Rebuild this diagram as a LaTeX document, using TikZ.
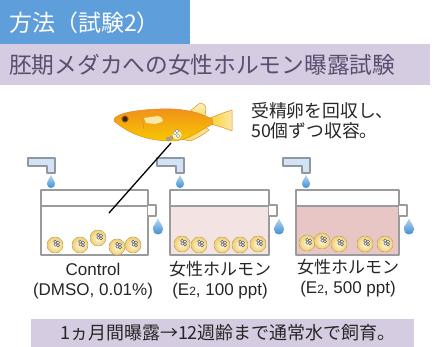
\documentclass[tikz,border=0pt]{standalone}
\usepackage{fontspec}
\setmainfont{Noto Sans CJK JP}
\newfontfamily\latinfont{Liberation Sans}
\definecolor{titleblue}{HTML}{5E9FDB}
\definecolor{lavender}{HTML}{D5CCE1}
\definecolor{subtext}{HTML}{5C4D70}
\definecolor{faucetfill}{HTML}{D3E3F3}
\definecolor{faucetline}{HTML}{8E97A4}
\definecolor{tankline}{HTML}{9B9B9B}
\definecolor{pinklight}{HTML}{F4E3E3}
\definecolor{pinkdark}{HTML}{E9C6C6}
\definecolor{dropblue}{HTML}{3D8FD6}
\definecolor{eggout}{HTML}{F2CF6E}
\definecolor{eggin}{HTML}{FFF9E6}
\definecolor{fishtop}{HTML}{F1901A}
\definecolor{fishbottom}{HTML}{F7C800}
\definecolor{finlight}{HTML}{FBE7A6}
\tikzset{
  egg/.pic={
    \fill[inner color=eggin, outer color=eggout] (0,0) circle (8);
    \draw[eggout!70!gray, line width=0.5pt] (0,0) circle (8);
    \foreach \a/\b in {0.2/-3.2, 3/-2.4, 0.5/-0.4, 3/0.3}
      \draw[gray!80!black, line width=0.6pt, fill=white] (\a,\b) circle (1.6);
  },
  drop/.pic={
    \shade[top color=dropblue!35, bottom color=dropblue] (0,-7) .. controls (0.8,-4) and (4,-1.5) .. (4,2)
      .. controls (4,4.5) and (2.2,6) .. (0,6) .. controls (-2.2,6) and (-4,4.5) .. (-4,2)
      .. controls (-4,-1.5) and (-0.8,-4) .. (0,-7) -- cycle;
  },
  txt/.style={font=\fontsize{17}{20}\selectfont, text=black!85, inner sep=0pt, align=center}
}
\begin{document}
\begin{tikzpicture}[x=1pt, y=-1pt, line join=round, line cap=round]
\useasboundingbox (0,0) rectangle (436,347);
% headings
\fill[titleblue] (0,0) rectangle (190,44);
\fill[lavender] (0,44) rectangle (430,85);
\node[anchor=west, text=white, font=\fontsize{23}{23}\selectfont, inner sep=0pt] (title) at (9,23) {方法（試験2）};
\node[anchor=west, text=subtext, font=\fontsize{22.7}{23}\selectfont, inner sep=0pt] (subtitle) at (9,65) {胚期メダカへの女性ホルモン曝露試験};

% medaka
\begin{scope}[draw=fishtop!70!brown, line width=0.5pt]
  \shade[draw, left color=fishbottom!80, right color=finlight] (210,118) .. controls (218,115) and (225,112) .. (232,110)
    -- (232,131) .. controls (225,128) and (218,126) .. (211,124) -- cycle;
  \shade[draw, top color=finlight!60, bottom color=fishbottom!60] (190,111) -- (200,103) .. controls (203,103) and (206,105) .. (206,108) -- (205,116) -- cycle;
  \shade[draw, left color=fishbottom!70, right color=finlight] (181,139) .. controls (190,133) and (198,128) .. (205,127)
    -- (209,130) .. controls (203,135) and (196,139) .. (190,141) -- cycle;
  \shade[draw, top color=fishtop, bottom color=fishbottom] (114,119) .. controls (118,113) and (135,110) .. (160,109)
    .. controls (185,108) and (200,113) .. (212,119) -- (213,124) .. controls (200,130) and (188,141) .. (172,141)
    .. controls (150,141) and (130,135) .. (114,121) -- cycle;
  \fill[finlight] (144,118) -- (158,116) .. controls (162,117) and (164,120) .. (162,122) -- (155,124) -- (146,123) -- cycle;
  \draw (141,118) .. controls (144,122) and (144,126) .. (143,129);
  \fill[black!70!brown] (125,119) circle (2.8);
  \draw[fishtop!60!black] (125,119) circle (3.3);
\end{scope}
% spawned eggs under the belly
\fill[white, opacity=0.8] (177,135) circle (4.5);
\foreach \a/\b/\c in {168/139/gray!60, 171/138/gray!60, 175/133/white, 178/136/white, 177/131/white}
  \draw[gray, line width=0.3pt, fill=\c] (\a,\b) circle (1.8);
\coordinate (spawn) at (171,143);

\node[txt, anchor=north west, align=left, font=\fontsize{17.8}{20}\selectfont] (note) at (251,102) {受精卵を回収し、\\50個ずつ収容。};

% tanks
\foreach \l/\r/\c in {41/148/white, 170/269/pinklight, 296/399/pinkdark}{
  \fill[\c] (\l,206) rectangle (\r,255);
  \draw[tankline, line width=1.3pt] (\l,190) rectangle (\r,255) (\l,206) -- (\r,206);
  \draw[tankline, line width=1.3pt, fill=white] (\r,205) -- (\r+8,205) -- (\r+8,216) -- (\r,216);
  \draw[faucetline, fill=faucetfill, line width=1.1pt] (\l-13,158) -- (\l+14,158) -- (\l+14,173) -- (\l+6,173) -- (\l+6,166) -- (\l-13,166) -- cycle;
  \pic at (\l+10,182) {drop};
  \pic[scale=1.25] at (\r+10,227) {drop};
}
\foreach \x/\y in {55/245, 80/245, 98/238, 117/247, 133/245,
                   182/244, 199/245, 222/245, 240/245, 258/244,
                   307/243, 322/241, 339/244, 365/244, 385/244}
  \pic at (\x,\y) {egg};
\coordinate (tankin) at (109,213);
\draw[line width=1.3pt] (spawn) -- (tankin);

% labels
\node[txt] (lab1) at (93,281) {{\latinfont Control}\\{\latinfont (DMSO, 0.01\%)}};
\node[txt] (lab2) at (220,280) {女性ホルモン\\{\latinfont (E{\fontsize{12}{12}\selectfont 2}, 100 ppt)}};
\node[txt] (lab3) at (348,278) {女性ホルモン\\{\latinfont (E{\fontsize{12}{12}\selectfont 2}, 500 ppt)}};

\fill[lavender] (31,319) rectangle (414,347);
\node[txt, font=\fontsize{18}{20}\selectfont] (rearing) at (228,333) {1ヵ月間曝露→12週齢まで通常水で飼育。};
\end{tikzpicture}
\end{document}
